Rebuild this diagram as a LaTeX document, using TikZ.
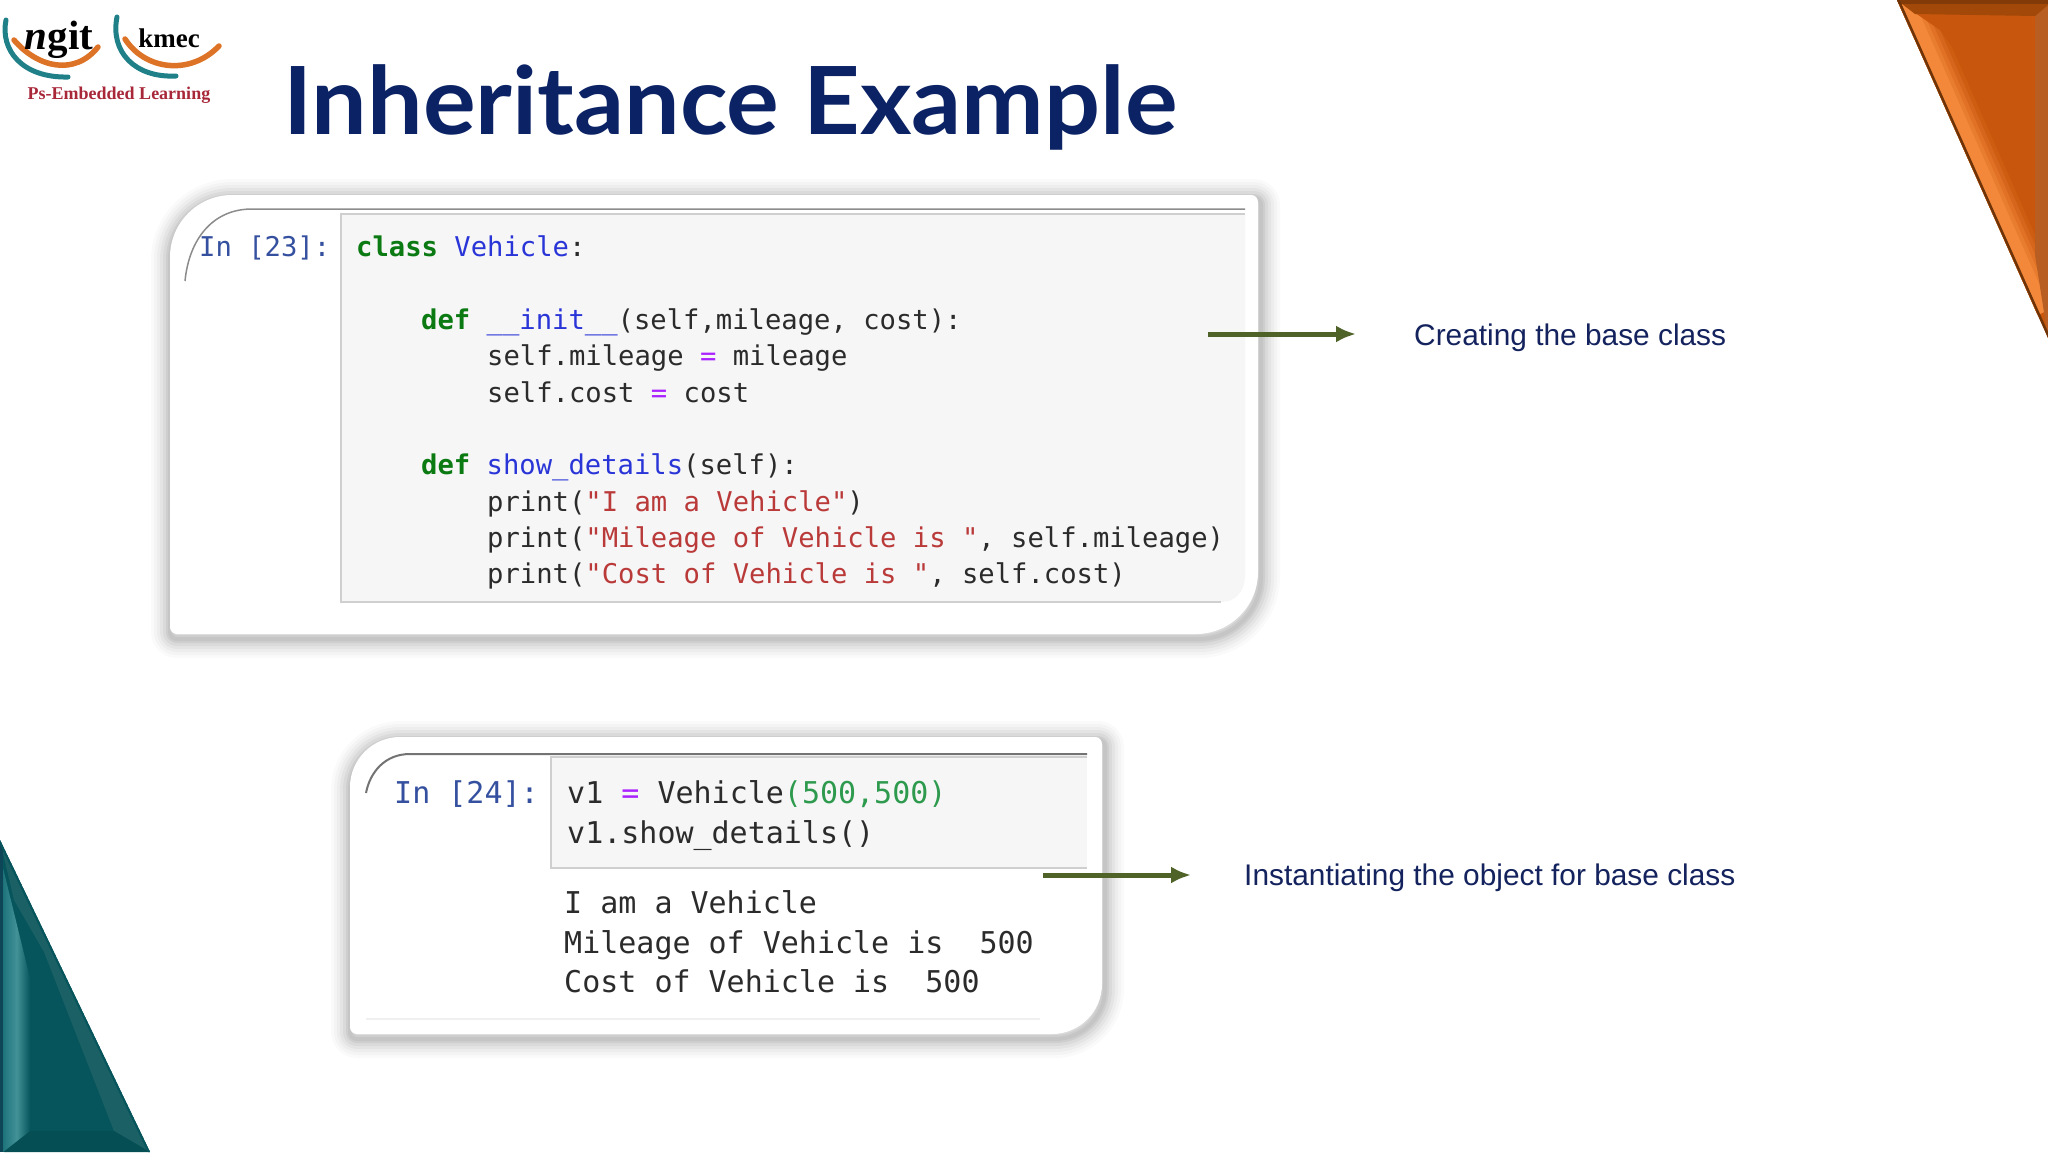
\documentclass[tikz,border=0pt]{standalone}
\usepackage{fontspec}
\usetikzlibrary{arrows.meta}
\setmainfont{Liberation Sans}
\setmonofont{DejaVu Sans Mono}
\newfontfamily\titlefont[FakeStretch=1.05]{Lato}
\newfontfamily\logofont{Liberation Serif}
\definecolor{navy}{HTML}{0B2265}
\definecolor{labelblue}{HTML}{14235E}
\definecolor{olive}{HTML}{4F6228}
\definecolor{kwc}{HTML}{0B7A12}
\definecolor{nmc}{HTML}{2A35D8}
\definecolor{stc}{HTML}{BA3A3A}
\definecolor{opc}{HTML}{AA22FF}
\definecolor{numc}{HTML}{2E9A4E}
\definecolor{prm}{HTML}{34509F}
\definecolor{ink}{HTML}{2B2B2B}
\definecolor{boxfill}{HTML}{F6F6F6}
\definecolor{boxline}{HTML}{CFCFCF}
\definecolor{teal1}{HTML}{1F8088}
\definecolor{orng1}{HTML}{DD7326}
\definecolor{crim}{HTML}{A8283A}
\definecolor{omain}{HTML}{C8560C}
\definecolor{odark}{HTML}{A24808}
\definecolor{otop}{HTML}{823A08}
\definecolor{oside}{HTML}{B85E22}
\definecolor{oedge}{HTML}{6E3408}
\definecolor{ohigh}{HTML}{F98F40}
\definecolor{tmain}{HTML}{07555C}
\definecolor{tband}{HTML}{1A6064}
\definecolor{tbot}{HTML}{054E54}
\definecolor{thigh}{HTML}{429298}
\definecolor{tmid}{HTML}{1E737A}
\definecolor{tedge}{HTML}{0E4658}
\newcommand{\kwd}[1]{\textcolor{kwc}{\bfseries #1}}
\newcommand{\nmd}[1]{\textcolor{nmc}{#1}}
\newcommand{\str}[1]{\textcolor{stc}{#1}}
\newcommand{\opr}[1]{\textcolor{opc}{#1}}
% card outline: left, top, right, bottom, big radius
\newcommand{\cardoutline}[5]{({#1+#5},#2) -- ({#3-7},#2) .. controls ({#3-3},#2) and (#3,{#2+3}) .. (#3,{#2+7})
  -- (#3,{#4-#5}) .. controls (#3,{#4-0.45*#5}) and ({#3-0.45*#5},#4) .. ({#3-#5},#4)
  -- ({#1+7},#4) .. controls ({#1+3},#4) and (#1,{#4-3}) .. (#1,{#4-7})
  -- (#1,{#2+#5}) .. controls (#1,{#2+0.45*#5}) and ({#1+0.45*#5},#2) .. ({#1+#5},#2) -- cycle}
\newcommand{\cardfull}[5]{%
  \foreach \w/\o in {38/0.018,32/0.022,26/0.028,20/0.036,14/0.045,8/0.05,4/0.04}{\draw[black,opacity=\o,line width=\w pt,line join=round] \cardoutline{#1}{#2+3}{#3+3}{#4+5}{#5};}
  \fill[white] \cardoutline{#1}{#2}{#3}{#4}{#5};}
\tikzset{
  codeA/.style={anchor=base west,inner sep=0pt,text=ink,font=\ttfamily\fontsize{27.2}{27.2}\selectfont},
  codeB/.style={anchor=base west,inner sep=0pt,text=ink,font=\ttfamily\fontsize{30}{30}\selectfont},
  note/.style={anchor=base west,inner sep=0pt,text=labelblue,font=\fontsize{29.85}{30}\selectfont},
  pointer/.style={draw=olive,line width=5pt,-{Latex[length=20pt,width=17pt]}},
  logotxt/.style={inner sep=0pt}
}
\begin{document}
\begin{tikzpicture}[x=1pt,y=-1pt]
\useasboundingbox (0,0) rectangle (2048,1152);
\fill[white] (0,0) rectangle (2048,1152);

% top-right corner triangle
\begin{scope}
  \clip (1897,0) -- (2048,0) -- (2048,338) -- cycle;
  \fill[omain] (1890,0) rectangle (2048,340);
  \foreach \w/\m in {46/12,38/28,30/48,22/68,14/88}{
    \draw[line width=\w pt,color=ohigh!\m!omain] (1905,-2) -- (2044,312);}
  \fill[omain] (1905,6) -- (1940,30) -- (1958,55) -- (1995,16) -- (1925,10) -- cycle;
  \fill[oside] (2048,5) -- (2035,16) -- (2035,255) -- (2048,338) -- cycle;
  \fill[odark] (1915,14) -- (2035,16) -- (2048,5) -- (2048,0) -- (1897,0) -- cycle;
  \fill[otop] (1897,0) rectangle (2048,4);
  \draw[line width=5pt,color=oedge] (1897,0) -- (2048,338);
\end{scope}

% bottom-left corner triangle
\begin{scope}
  \clip (0,840) -- (150,1152) -- (0,1152) -- cycle;
  \fill[tmain] (0,840) rectangle (150,1152);
  \fill[tband] (0,840) -- (150,1152) -- (114,1131) -- (44,952) -- (14,900) -- cycle;
  \fill[tbot] (150,1152) -- (114,1131) -- (30,1131) -- (4,1152) -- cycle;
  \shade[left color=tmid,right color=tmain,middle color=thigh] (3,868) -- (30,978) -- (30,1131) -- (3,1152) -- cycle;
  \fill[tedge] (0,840) rectangle (3,1152);
  \draw[line width=4pt,color=tmain] (0,840) -- (150,1152);
\end{scope}

% logo
\draw[teal1,line width=5pt,line cap=round] (6,20) .. controls (0,50) and (22,78) .. (68,77);
\draw[orng1,line width=5.5pt,line cap=round] (14,40) .. controls (38,68) and (75,76) .. (98,47);
\node[logotxt,font=\logofont\bfseries\fontsize{41}{41}\selectfont,text=black] (ngit) at (59,40) {\textit{n}git};
\draw[teal1,line width=5pt,line cap=round] (117,17) .. controls (110,52) and (135,78) .. (176,76);
\draw[orng1,line width=5.5pt,line cap=round] (125,39) .. controls (145,70) and (190,76) .. (219,46);
\node[logotxt,font=\logofont\bfseries\fontsize{27}{27}\selectfont,text=black] (kmec) at (169,38) {kmec};
\node[logotxt,font=\logofont\bfseries\fontsize{18}{18}\selectfont,text=crim] (tag) at (119,95) {Ps-Embedded Learning};

% title
\node[anchor=base west,inner sep=0pt,text=navy,font=\titlefont\bfseries\fontsize{94}{94}\selectfont] (title) at (283,134) {Inheritance Example};

% first card
\cardfull{170}{195}{1258}{634}{62}
\fill[boxfill] (341,214) -- (1245,214) -- (1245,575) .. controls (1245,592) and (1235,602) .. (1221,602) -- (341,602) -- cycle;
\draw[color=boxline,line width=1.6pt] (1245,214) -- (341,214) -- (341,602) -- (1221,602);
\draw[color=black!45,line width=1.5pt] (185,281) .. controls (189,240) and (212,209) .. (252,209) -- (1245,209);
\node[codeA,text=prm] (p1) at (199,256) {In [23]:};
\node[codeA] (c1a) at (356,256) {\kwd{class} \nmd{Vehicle}:};
\node[codeA] (c1b) at (421,329) {\kwd{def} \nmd{\_\_init\_\_}(self,mileage, cost):};
\node[codeA] (c1c) at (487,365) {self.mileage \opr{=} mileage};
\node[codeA] (c1d) at (487,402) {self.cost \opr{=} cost};
\node[codeA] (c1e) at (421,474) {\kwd{def} \nmd{show\_details}(self):};
\node[codeA] (c1f) at (487,511) {print(\str{"I am a Vehicle"})};
\node[codeA] (c1g) at (487,547) {print(\str{"Mileage of Vehicle is "}, self.mileage)};
\node[codeA] (c1h) at (487,583) {print(\str{"Cost of Vehicle is "}, self.cost)};

% second card
\cardfull{350}{737}{1102}{1034}{50}
\fill[boxfill] (551,757) rectangle (1087,868);
\draw[color=boxline,line width=1.6pt] (1087,757) -- (551,757) -- (551,868) -- (1087,868);
\draw[color=black!55,line width=2pt] (366,793) .. controls (370,772) and (385,754) .. (410,754) -- (1087,754);
\draw[color=black!6,line width=1.2pt] (366,1019) -- (1040,1019);
\node[codeB,text=prm] (p2) at (394,803) {In [24]:};
\node[codeB] (c2a) at (567,803) {v1 \opr{=} Vehicle\textcolor{numc}{(500,500)}};
\node[codeB] (c2b) at (567,843) {v1.show\_details()};
\node[codeB] (o2a) at (564,913) {I am a Vehicle};
\node[codeB] (o2b) at (564,953) {Mileage of Vehicle is\ \ 500};
\node[codeB] (o2c) at (564,992) {Cost of Vehicle is\ \ 500};

% pointers and notes
\coordinate (a1s) at (1208,334);
\coordinate (a1e) at (1356,334);
\coordinate (a2s) at (1043,875);
\coordinate (a2e) at (1191,875);
\draw[pointer] (a1s) -- (a1e);
\draw[pointer] (a2s) -- (a2e);
\node[note] (n1) at (1414,345) {Creating the base class};
\node[note] (n2) at (1244,885) {Instantiating the object for base class};
\end{tikzpicture}
\end{document}
